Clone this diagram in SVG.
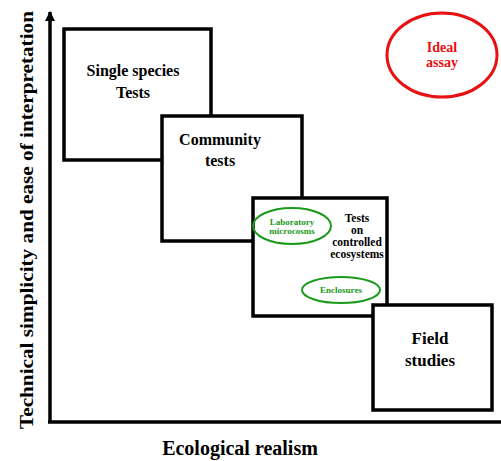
<svg xmlns="http://www.w3.org/2000/svg" width="501" height="461" viewBox="0 0 501 461">
<style>
.box{fill:#fff;stroke:#000;stroke-width:3.5}
text{font-family:'Liberation Serif',serif;font-weight:700;text-anchor:middle}
.t{fill:#000}
.red{fill:#e81010}
.g{fill:none;stroke:#1a9a1a;stroke-width:2}
.gt{fill:#1a9a1a;font-size:9px}
</style>
<defs>
<marker id="arr" viewBox="0 0 10 10" refX="9" refY="5" markerWidth="3" markerHeight="3" orient="auto">
<path d="M0,0 L10,5 L0,10 z" fill="#000"/>
</marker>
</defs>
<g id="connectors">
<line x1="50" y1="422" x2="50" y2="12" stroke="#000" stroke-width="3.5" marker-end="url(#arr)"/>
<line x1="48" y1="422" x2="501" y2="422" stroke="#000" stroke-width="3.5"/>
</g>
<g id="single-species">
<rect class="box" x="64" y="29" width="147" height="131"/>
<text class="t" style="font-size:16px" x="133" y="76">Single species</text>
<text class="t" style="font-size:16px" x="133" y="98">Tests</text>
</g>
<g id="community">
<rect class="box" x="162" y="116" width="140" height="125"/>
<text class="t" style="font-size:16px" x="220" y="145">Community</text>
<text class="t" style="font-size:16px" x="220" y="166">tests</text>
</g>
<g id="controlled">
<rect class="box" x="253" y="198" width="134" height="118"/>
<text class="t" style="font-size:11.5px" x="357" y="222">Tests</text>
<text class="t" style="font-size:11.5px" x="357" y="234">on</text>
<text class="t" style="font-size:11.5px" x="357" y="246">controlled</text>
<text class="t" style="font-size:11.5px" x="357" y="258">ecosystems</text>
</g>
<g id="lab-microcosms">
<ellipse class="g" cx="292" cy="226" rx="39" ry="18"/>
<text class="gt" x="292" y="225">Laboratory</text>
<text class="gt" x="292" y="234">microcosms</text>
</g>
<g id="enclosures">
<ellipse class="g" cx="341" cy="290" rx="39" ry="13"/>
<text class="gt" x="341" y="293">Enclosures</text>
</g>
<g id="field">
<rect class="box" x="373" y="305" width="119" height="105"/>
<text class="t" style="font-size:17px" x="430" y="344">Field</text>
<text class="t" style="font-size:17px" x="430" y="366">studies</text>
</g>
<g id="ideal">
<ellipse cx="442" cy="55" rx="55" ry="42" fill="none" stroke="#e81010" stroke-width="3"/>
<text class="red" style="font-size:14px" x="442" y="52">Ideal</text>
<text class="red" style="font-size:14px" x="442" y="67">assay</text>
</g>
<text class="t" style="font-size:20px" x="240" y="455">Ecological realism</text>
<text class="t" style="font-size:18px" transform="translate(33,220) rotate(-90)" textLength="418" lengthAdjust="spacingAndGlyphs">Technical simplicity and ease of interpretation</text>
</svg>
